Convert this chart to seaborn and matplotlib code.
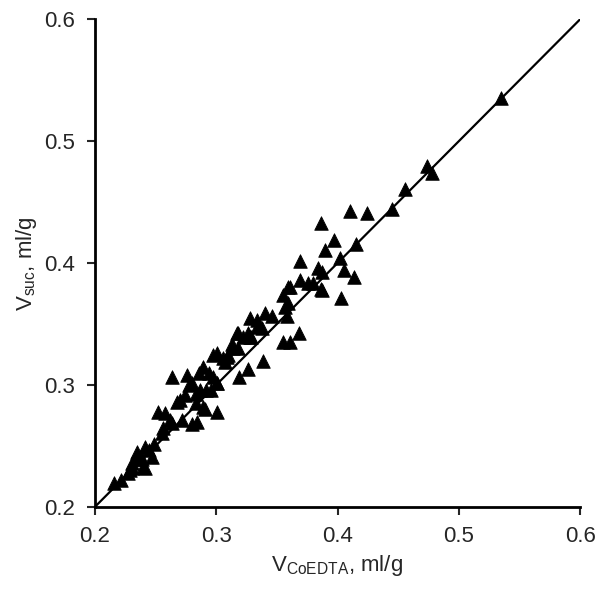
import matplotlib
matplotlib.use("Agg")
import matplotlib.pyplot as plt
import seaborn as sns
import pandas as pd

# --- Datos (V_CoEDTA vs V_suc, ml/g) ---
v_coedta = [
    0.535, 0.474, 0.478, 0.456, 0.445, 0.424, 0.410, 0.415, 0.414, 0.386,
    0.397, 0.390, 0.402, 0.369, 0.384, 0.387, 0.405, 0.369, 0.376, 0.380,
    0.361, 0.386, 0.403, 0.355, 0.357, 0.358, 0.368, 0.355, 0.361, 0.339,
    0.326, 0.319, 0.301, 0.289, 0.328, 0.340, 0.359, 0.317, 0.328, 0.334,
    0.301, 0.309, 0.314, 0.289, 0.297, 0.292, 0.301, 0.280, 0.284, 0.291,
    0.252, 0.258, 0.268, 0.274, 0.280, 0.296, 0.301, 0.264, 0.272, 0.255,
    0.249, 0.241, 0.235, 0.233, 0.239, 0.231, 0.227, 0.241, 0.247, 0.216,
    0.222, 0.264, 0.276, 0.297, 0.306, 0.278, 0.287, 0.270, 0.262, 0.256,
    0.245, 0.237, 0.231, 0.229, 0.240, 0.387, 0.359, 0.346, 0.334, 0.338,
    0.318, 0.326, 0.322, 0.329, 0.313, 0.318, 0.310, 0.307, 0.283, 0.286,
    0.294, 0.283,
]
v_suc = [
    0.535, 0.480, 0.474, 0.461, 0.444, 0.441, 0.443, 0.416, 0.389, 0.433,
    0.419, 0.411, 0.404, 0.402, 0.396, 0.393, 0.394, 0.386, 0.384, 0.384,
    0.380, 0.379, 0.371, 0.374, 0.364, 0.357, 0.343, 0.335, 0.335, 0.320,
    0.313, 0.307, 0.278, 0.282, 0.355, 0.359, 0.367, 0.343, 0.339, 0.348,
    0.326, 0.323, 0.330, 0.315, 0.307, 0.296, 0.302, 0.268, 0.270, 0.280,
    0.278, 0.277, 0.286, 0.292, 0.302, 0.296, 0.302, 0.269, 0.271, 0.261,
    0.252, 0.249, 0.245, 0.239, 0.239, 0.232, 0.228, 0.232, 0.241, 0.220,
    0.222, 0.307, 0.308, 0.325, 0.322, 0.300, 0.296, 0.288, 0.271, 0.265,
    0.247, 0.241, 0.236, 0.230, 0.233, 0.378, 0.380, 0.357, 0.353, 0.347,
    0.343, 0.343, 0.339, 0.339, 0.334, 0.330, 0.325, 0.319, 0.293, 0.310,
    0.310, 0.285,
]

# linea de identidad
linea_x = [0.2, 0.6]
linea_y = [0.2, 0.6]

ticks = [0.2, 0.3, 0.4, 0.5, 0.6]
etiquetas = ["0.2", "0.3", "0.4", "0.5", "0.6"]

df = pd.DataFrame({"x": v_coedta, "y": v_suc})

sns.set_style("ticks")
plt.rcParams["font.family"] = ["Liberation Sans", "DejaVu Sans"]
plt.rcParams["mathtext.fontset"] = "custom"
plt.rcParams["mathtext.rm"] = "Liberation Sans"
plt.rcParams["mathtext.it"] = "Liberation Sans:italic"

fig = plt.figure(figsize=(6, 6), dpi=100)
ax = fig.add_axes([0.158, 0.155, 0.809, 0.813])

sns.lineplot(x=linea_x, y=linea_y, color="black", linewidth=1.6, ax=ax)
sns.scatterplot(data=df, x="x", y="y", marker="^", s=95, color="black",
                edgecolor="black", linewidth=0.6, ax=ax, zorder=3)

ax.set_xlim(0.2, 0.6)
ax.set_ylim(0.2, 0.6)
ax.set_xticks(ticks)
ax.set_xticklabels(etiquetas)
ax.set_yticks(ticks)
ax.set_yticklabels(etiquetas)
ax.tick_params(direction="out", length=6, width=1.5, labelsize=16, pad=8)

for lado in ["top", "right"]:
    ax.spines[lado].set_visible(False)
for lado in ["left", "bottom"]:
    ax.spines[lado].set_linewidth(2)
    ax.spines[lado].set_color("black")

ax.set_xlabel(r"V$_{\mathrm{CoEDTA}}$, ml/g", fontsize=16, labelpad=4)
ax.set_ylabel(r"V$_{\mathrm{suc}}$, ml/g", fontsize=16, labelpad=4)

fig.savefig("out.png", dpi=100)
